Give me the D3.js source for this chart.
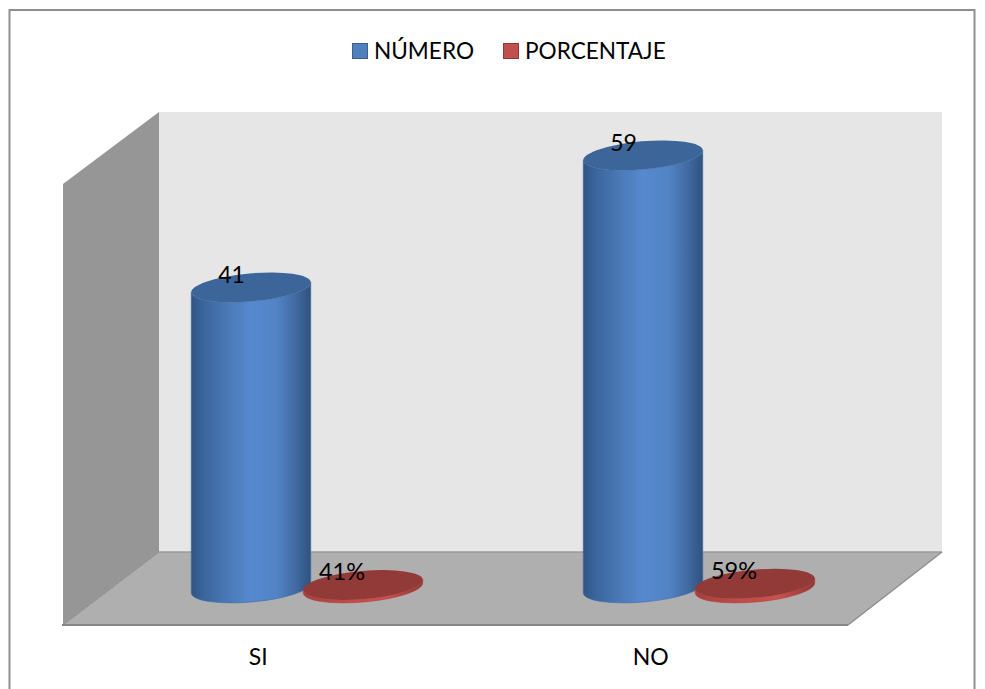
<!DOCTYPE html>
<html><head><meta charset="utf-8">
<script src="https://cdnjs.cloudflare.com/ajax/libs/d3/7.8.5/d3.min.js"></script>
<style>html,body{margin:0;padding:0;background:#fff}svg{display:block}text{font-family:Lato,"Noto Sans",sans-serif;fill:#000}</style>
</head><body><svg id="c" width="985" height="689"></svg>
<script>
const categories = ["SI","NO"];
const seriesNames = ["NÚMERO","PORCENTAJE"];
const numero = [41,59];
const porcentaje = [0.41,0.59];
const numeroLabels = ["41","59"];
const porcentajeLabels = ["41%","59%"];
const yTicks = [0,60];

const svg = d3.select("#c");
const defs = svg.append("defs");
const W=985,H=689;

// chart frame
svg.append("rect").attr("x",9.5).attr("y",10).attr("width",965).attr("height",H+10)
  .attr("fill","#fff").attr("stroke","#8e8e8e").attr("stroke-width",2);

// 3D room
const bx0=159,bx1=942,fx0=63,fx1=848,topB=112,topF=184,floorB=552,floorF=625;
const line=d3.line();
svg.append("path").attr("d",line([[bx0,topB],[bx1,topB],[bx1,floorB],[bx0,floorB]])+"Z").attr("fill","#e6e6e6");
svg.append("path").attr("d",line([[fx0,topF],[bx0,topB],[bx0,floorB],[fx0,floorF]])+"Z").attr("fill","#969696");
svg.append("path").attr("d",line([[fx0,floorF],[bx0,floorB],[bx1,floorB],[fx1,floorF]])+"Z").attr("fill","#afafaf");
svg.append("path").attr("d",line([[fx0,floorF],[bx0,floorB]])).attr("stroke","#8f8f8f").attr("stroke-width",1).attr("fill","none");
svg.append("path").attr("d",line([[bx0,floorB],[bx1,floorB]])).attr("stroke","#9a9a9a").attr("stroke-width",1.5).attr("fill","none");
svg.append("path").attr("d",line([[bx1,floorB],[fx1,floorF]])).attr("stroke","#8f8f8f").attr("stroke-width",1.5).attr("fill","none");
svg.append("path").attr("d",line([[fx0-1,floorF],[fx1,floorF]])).attr("stroke","#858585").attr("stroke-width",2.2).attr("fill","none");

// scales
const xAxisScale=d3.scaleBand().domain(categories).range([fx0,fx1]);
const x0=d3.scaleBand().domain(categories).range([(fx0+bx0)/2,(fx1+bx1)/2]);
const x1=d3.scaleBand().domain(seriesNames).range([-112,112]);
const y=d3.scaleLinear().domain(yTicks).range([588,148]);

// gradients
function grad(id,stops){
  const g=defs.append("linearGradient").attr("id",id).attr("x1","0").attr("x2","1").attr("y1","0").attr("y2","0");
  stops.forEach(s=>g.append("stop").attr("offset",s[0]).attr("stop-color",s[1]));
}
grad("blueBody",[[0,"#2f5583"],[0.1,"#3a659c"],[0.3,"#4a79b6"],[0.5,"#5689cf"],[0.72,"#5183c5"],[0.88,"#40699f"],[1,"#2f527f"]]);
grad("redRim",[[0,"#a83f3c"],[0.4,"#c24c49"],[0.7,"#c9504d"],[1,"#8f3735"]]);

const rx=60,ry=14,tilt=-5,a=Math.abs(tilt)*Math.PI/180;
function ell(cx,cy){
  const dx=rx*Math.cos(a),dy=rx*Math.sin(a);
  return `M${cx-dx},${cy+dy}A${rx},${ry},${tilt},1,1,${cx+dx},${cy-dy}A${rx},${ry},${tilt},1,1,${cx-dx},${cy+dy}Z`;
}
function body(cx,top,bot){
  const dx=rx*Math.cos(a),dy=rx*Math.sin(a);
  return `M${cx-dx},${top+dy}L${cx-dx},${bot+dy}A${rx},${ry},${tilt},0,0,${cx+dx},${bot-dy}L${cx+dx},${top-dy}A${rx},${ry},${tilt},0,1,${cx-dx},${top+dy}Z`;
}
function cyl(cx,v,bodyFill,topFill,stroke){
  const g=svg.append("g");
  g.append("path").attr("d",body(cx,y(v),y(0))).attr("fill",bodyFill).attr("stroke",stroke).attr("stroke-width",0.6);
  g.append("path").attr("d",ell(cx,y(v))).attr("fill",topFill);
}
categories.forEach((c,i)=>{
  const m=x0(c)+x0.bandwidth()/2;
  const bc=m+x1("NÚMERO")+x1.bandwidth()/2;
  const rc=m+x1("PORCENTAJE")+x1.bandwidth()/2;
  cyl(bc,numero[i],"url(#blueBody)","#3c6699","#3f6ea8");
  cyl(rc,porcentaje[i],"url(#redRim)","#923a37","#b8403d");
  svg.append("text").attr("x",bc-19.5).attr("y",y(numero[i])-4).attr("text-anchor","middle").attr("font-size",23).text(numeroLabels[i]);
  svg.append("text").attr("x",rc-21).attr("y",y(porcentaje[i])-5).attr("text-anchor","middle").attr("font-size",23.5).text(porcentajeLabels[i]);
});

// category axis
const ax=svg.append("g").attr("transform",`translate(0,${floorF})`).call(d3.axisBottom(xAxisScale).tickSize(0).tickPadding(24));
ax.select(".domain").remove();
ax.selectAll("text").attr("font-size",23).attr("font-family","Lato,'Noto Sans',sans-serif").attr("dx",-1);

// legend
const legX=[352,503],legFill=["#4f81bd","#c0504d"],legStroke=["#3a6190","#8f3a38"];
seriesNames.forEach((n,i)=>{
  svg.append("rect").attr("x",legX[i]+.5).attr("y",43.5).attr("width",15).attr("height",15).attr("fill",legFill[i]).attr("stroke",legStroke[i]);
  svg.append("text").attr("x",legX[i]+22).attr("y",59).attr("font-size",22.6).text(n);
});
</script></body></html>
